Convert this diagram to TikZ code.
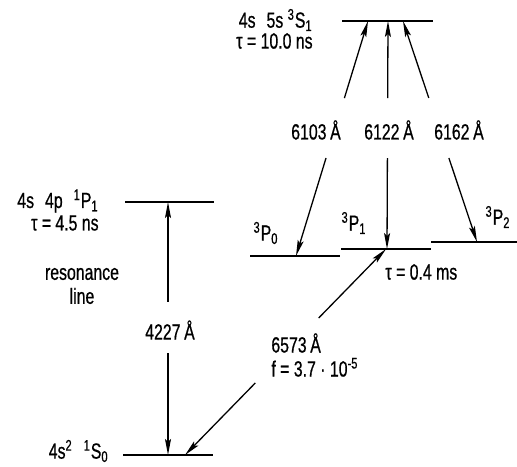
\documentclass[tikz,border=0pt]{standalone}
\usepackage{fontspec}
\setmainfont{Liberation Sans}[FakeStretch=0.72,FakeBold=0.6]
\usetikzlibrary{arrows.meta,calc}
\tikzset{
    level/.style={line width=1.1pt, black},
    trans/.style={line width=0.65pt, -{Stealth[length=8pt,width=3pt,inset=1.5pt]}},
    term/.style={font=\fontsize{11}{12}\selectfont, inner sep=0pt},
    wave/.style={font=\fontsize{11}{12}\selectfont, inner sep=0pt},
}
\newcommand{\ang}{\,Å}

\begin{document}
\begin{tikzpicture}[x=0.5pt,y=-0.5pt]
    \useasboundingbox (0,0) rectangle (517,466);
    % levels
    \coordinate (S3l) at (342,21);  \coordinate (S3r) at (433,21);
    \coordinate (P1l) at (125,202); \coordinate (P1r) at (214,202);
    \coordinate (S0l) at (123,455); \coordinate (S0r) at (213,455);
    \coordinate (T0l) at (250,256); \coordinate (T0r) at (340,256);
    \coordinate (T1l) at (341,249); \coordinate (T1r) at (431,249);
    \coordinate (T2l) at (431,242); \coordinate (T2r) at (517,242);
    \draw[level] (S3l) -- (S3r);
    \draw[level] (P1l) -- (P1r);
    \draw[level] (S0l) -- (S0r);
    \draw[level] (T0l) -- (T0r);
    \draw[level] (T1l) -- (T1r);
    \draw[level] (T2l) -- (T2r);
    % terms
    \node[term, anchor=east] (nS3) at (313,20) {4s\enspace 5s \textsuperscript{3}S\textsubscript{1}};
    \node[term, anchor=east] (tS3) at (313,41) {τ = 10.0 ns};
    \node[term, anchor=east] (nP1) at (99,201) {4s\enspace 4p\enspace \textsuperscript{1}P\textsubscript{1}};
    \node[term, anchor=east] (tP1) at (99,223) {τ = 4.5 ns};
    \node[term, align=center] (res) at (82,286) {resonance\\line};
    \node[term, anchor=east] (nS0) at (109,451) {4s\textsuperscript{2}\enspace \textsuperscript{1}S\textsubscript{0}};
    \node[term] (nT0) at (266,233) {\textsuperscript{3}P\textsubscript{0}};
    \node[term] (nT1) at (354,223) {\textsuperscript{3}P\textsubscript{1}};
    \node[term] (nT2) at (498,217) {\textsuperscript{3}P\textsubscript{2}};
    \node[term, anchor=west] (tT1) at (385,272) {τ = 0.4 ms};
    % transitions
    \coordinate (up1) at (368,21); \coordinate (dn0) at (296,256);
    \coordinate (up2) at (388,21); \coordinate (dn1) at (387,249);
    \coordinate (up3) at (403,21); \coordinate (dn2) at (477,242);
    \coordinate (r1) at (168,202); \coordinate (r0) at (168,455);
    \coordinate (ic1) at (386,249); \coordinate (ic0) at (185,455);
    \foreach \lo/\hi/\a/\b in {dn0/up1/0.417/0.672, dn1/up2/0.399/0.662,
        dn2/up3/0.38/0.652, r0/r1/0.403/0.605, ic0/ic1/0.35/0.665}{
        \draw[trans] ($(\lo)!\b!(\hi)$) -- (\hi);
        \draw[trans] ($(\lo)!\a!(\hi)$) -- (\lo);
    }
    \node[wave] (w6103) at (316,130) {6103\ang};
    \node[wave] (w6122) at (389,130) {6122\ang};
    \node[wave] (w6162) at (459,130) {6162\ang};
    \node[wave] (w4227) at (170,330) {4227\ang};
    \node[wave, anchor=west, align=left] (w6573) at (271,355) {6573\ang\\f = 3.7 · 10\textsuperscript{-5}};
\end{tikzpicture}
\end{document}
